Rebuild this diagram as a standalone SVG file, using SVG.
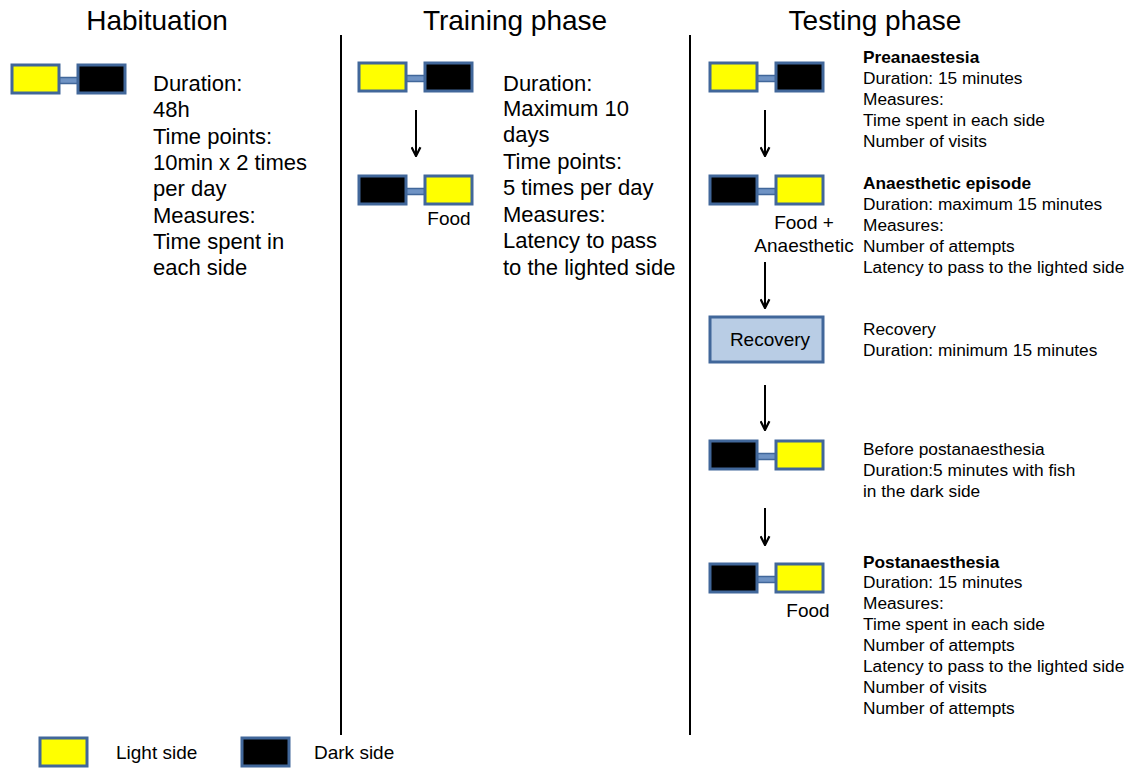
<svg xmlns="http://www.w3.org/2000/svg" width="1132" height="768" viewBox="0 0 1132 768">
<defs>
<style>
text{font-family:"Liberation Sans",Arial,sans-serif;fill:#000}
.t{font-size:28px;text-anchor:middle}
.m{font-size:22px}
.s{font-size:17.3px}
.b{font-weight:bold}
.l{font-size:19px}
.y{fill:#ffff00;stroke:#41679a;stroke-width:3}
.k{fill:#000;stroke:#41679a;stroke-width:3}
.c{fill:#6f93c4;stroke:#41679a;stroke-width:1.5}
.r{fill:#b9cde5;stroke:#41679a;stroke-width:3}
.ln{stroke:#000;stroke-width:2;fill:none}
</style>
<marker id="ah" viewBox="0 0 10 10" refX="9" refY="5" markerWidth="11" markerHeight="11" orient="auto" markerUnits="userSpaceOnUse">
<path d="M1,1 L9,5 L1,9" fill="none" stroke="#000" stroke-width="2"/>
</marker>
</defs>
<rect width="1132" height="768" fill="#fff"/>
<g id="dividers">
<line x1="341" y1="35" x2="341" y2="735" class="ln"/>
<line x1="690" y1="35" x2="690" y2="735" class="ln"/>
</g>
<g id="titles">
<text class="t" x="157" y="30">Habituation</text>
<text class="t" x="515" y="30">Training phase</text>
<text class="t" x="875" y="30">Testing phase</text>
</g>
<g id="habituation">
<rect class="c" x="59" y="77.5" width="20" height="6"/>
<rect class="y" x="12" y="65" width="47" height="28"/>
<rect class="k" x="78" y="65" width="47" height="28"/>
<text class="m" x="153" y="91">Duration:</text>
<text class="m" x="153" y="117">48h</text>
<text class="m" x="153" y="144">Time points:</text>
<text class="m" x="153" y="170">10min x 2 times</text>
<text class="m" x="153" y="196">per day</text>
<text class="m" x="153" y="223">Measures:</text>
<text class="m" x="153" y="249">Time spent in</text>
<text class="m" x="153" y="275">each side</text>
</g>
<g id="training1">
<rect class="c" x="406" y="75.5" width="20" height="6"/>
<rect class="y" x="359" y="63" width="47" height="28"/>
<rect class="k" x="425" y="63" width="47" height="28"/>
</g>
<g id="training2">
<rect class="c" x="406" y="188.5" width="20" height="6"/>
<rect class="k" x="359" y="176" width="47" height="28"/>
<rect class="y" x="425" y="176" width="47" height="28"/>
<text class="l" x="449" y="225" text-anchor="middle">Food</text>
</g>
<g id="training-text">
<text class="m" x="503" y="91">Duration:</text>
<text class="m" x="503" y="116">Maximum 10</text>
<text class="m" x="503" y="142">days</text>
<text class="m" x="503" y="169">Time points:</text>
<text class="m" x="503" y="195">5 times per day</text>
<text class="m" x="503" y="222">Measures:</text>
<text class="m" x="503" y="248">Latency to pass</text>
<text class="m" x="503" y="275">to the lighted side</text>
</g>
<g id="test1">
<rect class="c" x="756" y="75.5" width="21" height="6"/>
<rect class="y" x="710" y="63" width="47" height="28"/>
<rect class="k" x="776" y="63" width="47" height="28"/>
<text class="s b" x="863" y="63">Preanaestesia</text>
<text class="s" x="863" y="84">Duration: 15 minutes</text>
<text class="s" x="863" y="105">Measures:</text>
<text class="s" x="863" y="126">Time spent in each side</text>
<text class="s" x="863" y="147">Number of visits</text>
</g>
<g id="test2">
<rect class="c" x="756" y="188.5" width="21" height="6"/>
<rect class="k" x="710" y="176" width="47" height="28"/>
<rect class="y" x="776" y="176" width="47" height="28"/>
<text class="l" x="804" y="229" text-anchor="middle">Food +</text>
<text class="l" x="804" y="252" text-anchor="middle">Anaesthetic</text>
<text class="s b" x="863" y="189">Anaesthetic episode</text>
<text class="s" x="863" y="210">Duration: maximum 15 minutes</text>
<text class="s" x="863" y="231">Measures:</text>
<text class="s" x="863" y="252">Number of attempts</text>
<text class="s" x="863" y="273">Latency to pass to the lighted side</text>
</g>
<g id="recovery">
<rect class="r" x="710" y="317" width="113" height="45"/>
<text class="l" x="770" y="346" text-anchor="middle">Recovery</text>
<text class="s" x="863" y="335">Recovery</text>
<text class="s" x="863" y="356">Duration: minimum 15 minutes</text>
</g>
<g id="test4">
<rect class="c" x="756" y="453.5" width="21" height="6"/>
<rect class="k" x="710" y="441" width="47" height="28"/>
<rect class="y" x="776" y="441" width="47" height="28"/>
<text class="s" x="863" y="455">Before postanaesthesia</text>
<text class="s" x="863" y="476">Duration:5 minutes with fish</text>
<text class="s" x="863" y="497">in the dark side</text>
</g>
<g id="test5">
<rect class="c" x="756" y="576.5" width="21" height="6"/>
<rect class="k" x="710" y="564" width="47" height="28"/>
<rect class="y" x="776" y="564" width="47" height="28"/>
<text class="l" x="808" y="617" text-anchor="middle">Food</text>
<text class="s b" x="863" y="568">Postanaesthesia</text>
<text class="s" x="863" y="588">Duration: 15 minutes</text>
<text class="s" x="863" y="609">Measures:</text>
<text class="s" x="863" y="630">Time spent in each side</text>
<text class="s" x="863" y="651">Number of attempts</text>
<text class="s" x="863" y="672">Latency to pass to the lighted side</text>
<text class="s" x="863" y="693">Number of visits</text>
<text class="s" x="863" y="714">Number of attempts</text>
</g>
<g id="connectors">
<line x1="416" y1="110" x2="416" y2="156" class="ln" marker-end="url(#ah)"/>
<line x1="765" y1="110" x2="765" y2="156" class="ln" marker-end="url(#ah)"/>
<line x1="765" y1="262" x2="765" y2="308" class="ln" marker-end="url(#ah)"/>
<line x1="765" y1="385" x2="765" y2="430" class="ln" marker-end="url(#ah)"/>
<line x1="765" y1="508" x2="765" y2="545" class="ln" marker-end="url(#ah)"/>
</g>
<g id="legend">
<rect class="y" x="40" y="738" width="47" height="28"/>
<text class="l" x="116" y="759">Light side</text>
<rect class="k" x="242" y="738" width="47" height="28"/>
<text class="l" x="314" y="759">Dark side</text>
</g>
</svg>
